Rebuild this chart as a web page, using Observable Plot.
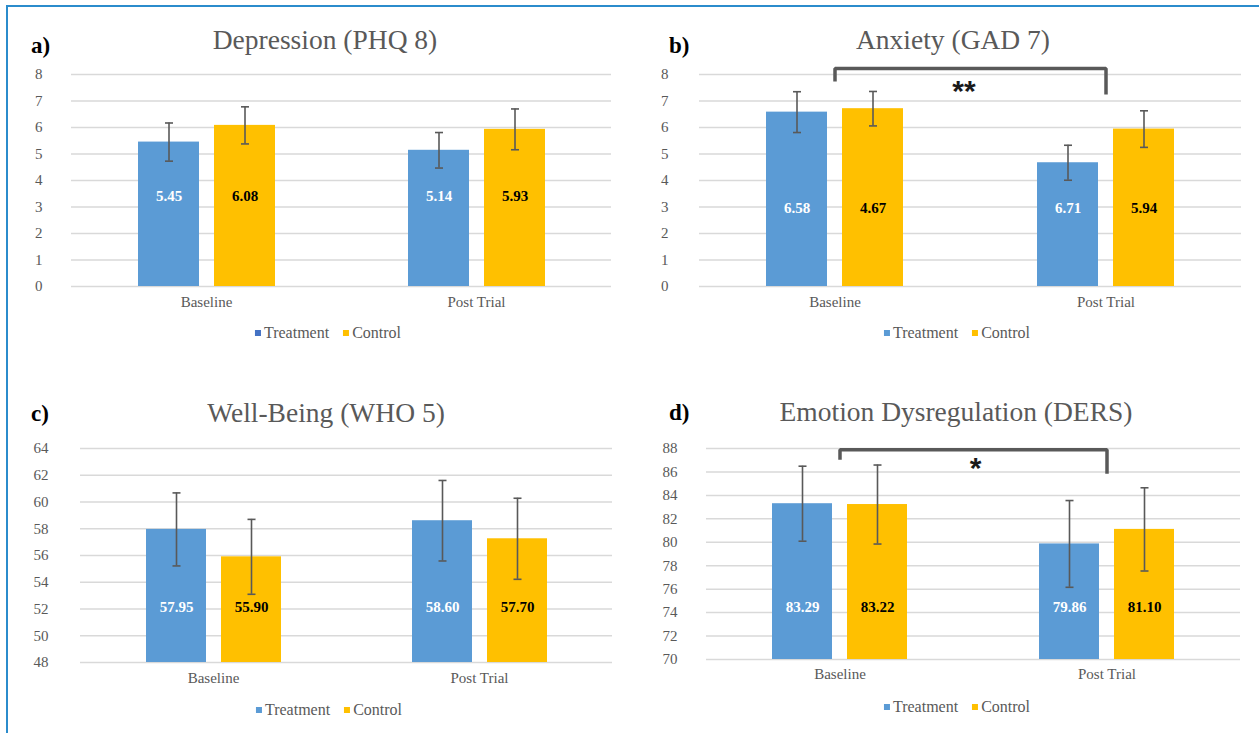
<!DOCTYPE html>
<html><head><meta charset="utf-8">
<script src="https://cdn.jsdelivr.net/npm/d3@7"></script>
<script src="https://cdn.jsdelivr.net/npm/@observablehq/plot@0.6"></script>
<style>
body{margin:0;background:#fff;width:1259px;height:733px;overflow:hidden;position:relative;font-family:"Liberation Serif","Times New Roman",serif;}
#frame{position:absolute;left:6px;top:5px;width:1300px;height:800px;border-left:2.5px solid #2b8ccc;border-top:2.5px solid #2b8ccc;}
.title{position:absolute;transform:translate(-50%,-50%);font-family:"Liberation Serif","Times New Roman",serif;font-size:27.5px;color:#595959;white-space:nowrap;line-height:1}
.letter{position:absolute;transform:translateY(-50%);font-family:"Liberation Serif","Times New Roman",serif;font-size:23px;font-weight:bold;color:#000;line-height:1}
.legend{position:absolute;transform:translate(-50%,-50%);display:flex;align-items:center;gap:14px;font-family:"Liberation Serif","Times New Roman",serif;font-size:16px;color:#595959;white-space:nowrap;line-height:1}
.legend .it{display:flex;align-items:center;font-family:"Liberation Serif","Times New Roman",serif}
.legend .sw{display:inline-block;width:6px;height:6px;margin-right:3px}
</style></head><body>
<div id="frame"></div>
<script>
// ---- data ----
const timepoints = ["Baseline", "Post Trial"];
const groups = ["Treatment", "Control"];
const groupColors = ["#5B9BD5", "#FFC000"];
// order of values: Baseline-Treatment, Baseline-Control, Post Trial-Treatment, Post Trial-Control
const depressionMeans = [5.45, 6.08, 5.14, 5.93];
const depressionErrors = [0.72, 0.70, 0.67, 0.77];
const depressionLabels = ["5.45", "6.08", "5.14", "5.93"];
const depressionTicks = [0, 1, 2, 3, 4, 5, 6, 7, 8];

const anxietyMeans = [6.58, 6.71, 4.67, 5.94];
const anxietyErrors = [0.77, 0.65, 0.66, 0.69];
const anxietyLabels = ["6.58", "4.67", "6.71", "5.94"];
const anxietyTicks = [0, 1, 2, 3, 4, 5, 6, 7, 8];
const anxietyBracket = [7.74, 8.23, 8.23, 7.25];

const wellbeingMeans = [57.95, 55.90, 58.60, 57.25];
const wellbeingErrors = [2.73, 2.80, 3.01, 3.03];
const wellbeingLabels = ["57.95", "55.90", "58.60", "57.70"];
const wellbeingTicks = [48, 50, 52, 54, 56, 58, 60, 62, 64];

const dersMeans = [83.29, 83.22, 79.86, 81.10];
const dersErrors = [3.20, 3.37, 3.70, 3.55];
const dersLabels = ["83.29", "83.22", "79.86", "81.10"];
const dersTicks = [70, 72, 74, 76, 78, 80, 82, 84, 86, 88];
const dersBracket = [87.04, 87.89, 87.89, 85.84];

const bracketX = ["Baseline", "Baseline", "Post Trial", "Post Trial"];

// ---- layout ----
const panels = [
  {letter: "a)", title: "Depression (PHQ 8)", means: depressionMeans, errors: depressionErrors, labels: depressionLabels, ticks: depressionTicks,
   labelAt: 3.4, left: 0, top: 60, w: 630, h: 260, ml: 70, mr: 19, mt: 14, mb: 34, tp: 29, fxp: 10,
   tx: 325, ty: 40, lx: 31, ly: 45, gx: 328, gy: 333, sw: "#4472C4"},
  {letter: "b)", title: "Anxiety (GAD 7)", means: anxietyMeans, errors: anxietyErrors, labels: anxietyLabels, ticks: anxietyTicks,
   labelAt: 2.94, left: 630, top: 60, w: 629, h: 260, ml: 68, mr: 18, mt: 14, mb: 34, tp: 31, fxp: 10,
   tx: 953, ty: 40, lx: 669, ly: 45, gx: 957, gy: 333, sw: "#5B9BD5",
   bracket: anxietyBracket, star: "**", starY: 7.37, starDx: -6},
  {letter: "c)", title: "Well-Being (WHO 5)", means: wellbeingMeans, errors: wellbeingErrors, labels: wellbeingLabels, ticks: wellbeingTicks,
   labelAt: 52.1, left: 0, top: 430, w: 630, h: 260, ml: 79, mr: 18, mt: 18, mb: 28, tp: 32, fxp: 10,
   tx: 326, ty: 413, lx: 31, ly: 413, gx: 329, gy: 710, sw: "#5B9BD5"},
  {letter: "d)", title: "Emotion Dysregulation (DERS)", means: dersMeans, errors: dersErrors, labels: dersLabels, ticks: dersTicks,
   labelAt: 74.44, left: 630, top: 430, w: 629, h: 260, ml: 76, mr: 19, mt: 18, mb: 31, tp: 29, fxp: 9,
   tx: 956, ty: 412, lx: 669, ly: 412, gx: 957, gy: 707, sw: "#5B9BD5",
   bracket: dersBracket, star: "*", starY: 86.28, starDx: 2}
];

const capSymbol = {draw(ctx) { ctx.moveTo(-4, 0); ctx.lineTo(4, 0); }};

function place(node, left, top) {
  node.style.position = "absolute";
  node.style.left = left + "px";
  node.style.top = top + "px";
  document.body.appendChild(node);
}

for (const cfg of panels) {
  const rows = cfg.means.map((m, i) => ({
    time: timepoints[Math.floor(i / 2)], group: groups[i % 2],
    mean: m, lo: m - cfg.errors[i], hi: m + cfg.errors[i], label: cfg.labels[i]
  }));
  const yDomain = [cfg.ticks[0], cfg.ticks[cfg.ticks.length - 1]];
  const common = {
    width: cfg.w, height: cfg.h, marginLeft: cfg.ml, marginRight: cfg.mr, marginTop: cfg.mt, marginBottom: cfg.mb,
    style: {fontFamily: "'Liberation Serif', serif", fontSize: "15px", color: "#595959", background: "transparent", overflow: "visible"}
  };
  const chart = Plot.plot({
    ...common,
    fx: {domain: timepoints, padding: 0, axis: "bottom", label: null, tickSize: 0, tickPadding: cfg.fxp},
    x: {domain: groups, paddingInner: 0.2, paddingOuter: 0.87, axis: null},
    y: {domain: yDomain, ticks: cfg.ticks, tickSize: 0, tickPadding: cfg.tp, label: null, tickFormat: d => String(d)},
    color: {domain: groups, range: groupColors},
    marks: [
      Plot.ruleY(cfg.ticks, {stroke: "#d9d9d9", strokeWidth: 1.5}),
      Plot.barY(rows, {fx: "time", x: "group", y1: yDomain[0], y2: "mean", fill: "group"}),
      Plot.ruleX(rows, {fx: "time", x: "group", y1: "lo", y2: "hi", stroke: "#595959", strokeWidth: 1.6}),
      Plot.dot(rows, {fx: "time", x: "group", y: "hi", symbol: capSymbol, stroke: "#595959", strokeWidth: 1.6, fill: "none"}),
      Plot.dot(rows, {fx: "time", x: "group", y: "lo", symbol: capSymbol, stroke: "#595959", strokeWidth: 1.6, fill: "none"}),
      Plot.text(rows, {filter: d => d.group === "Treatment", fx: "time", x: "group", y: () => cfg.labelAt, text: "label",
        fill: "white", fontWeight: "bold", fontSize: 15}),
      Plot.text(rows, {filter: d => d.group === "Control", fx: "time", x: "group", y: () => cfg.labelAt, text: "label",
        fill: "black", fontWeight: "bold", fontSize: 15})
    ]
  });
  place(chart, cfg.left, cfg.top);

  if (cfg.bracket) {
    const over = Plot.plot({
      ...common,
      x: {type: "band", domain: timepoints, padding: 0, axis: null},
      y: {domain: yDomain, axis: null},
      marks: [
        Plot.line({length: bracketX.length}, {x: bracketX, y: cfg.bracket, stroke: "#595959", strokeWidth: 3.5,
          strokeLinejoin: "miter", strokeLinecap: "butt"}),
        Plot.text([cfg.star], {y: () => cfg.starY, text: d => d, dx: cfg.starDx, fontFamily: "'Liberation Sans', sans-serif",
          fontWeight: "bold", fontSize: 30, fill: "#1a1a1a"})
      ]
    });
    over.style.pointerEvents = "none";
    place(over, cfg.left, cfg.top);
  }

  const t = document.createElement("div");
  t.className = "title"; t.textContent = cfg.title;
  t.style.left = cfg.tx + "px"; t.style.top = cfg.ty + "px";
  document.body.appendChild(t);

  const l = document.createElement("div");
  l.className = "letter"; l.textContent = cfg.letter;
  l.style.left = cfg.lx + "px"; l.style.top = cfg.ly + "px";
  document.body.appendChild(l);

  const g = document.createElement("div");
  g.className = "legend";
  g.style.left = cfg.gx + "px"; g.style.top = cfg.gy + "px";
  groups.forEach((name, i) => {
    const it = document.createElement("span"); it.className = "it";
    const sw = document.createElement("span"); sw.className = "sw";
    sw.style.background = i === 0 ? cfg.sw : groupColors[1];
    it.appendChild(sw);
    it.appendChild(document.createTextNode(name));
    g.appendChild(it);
  });
  document.body.appendChild(g);
}
</script></body></html>
